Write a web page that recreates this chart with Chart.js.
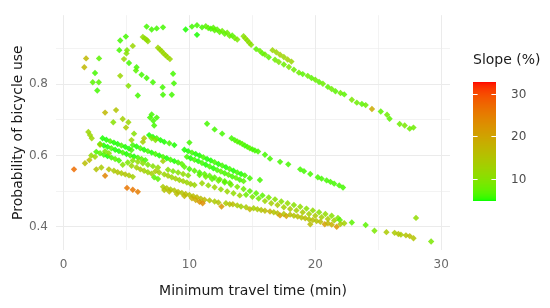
<!DOCTYPE html>
<html>
<head>
<meta charset="utf-8">
<script src="https://cdn.jsdelivr.net/npm/chart.js@4.4.1/dist/chart.umd.min.js"></script>
<style>
  html, body { margin: 0; background: #fff; }
</style>
</head>
<body>
<canvas id="chart-slope" width="550" height="308"></canvas>
<script>
// each point: [minimum travel time (min), probability of bicycle use, slope (%)]
const arcTop = [
    [6.6,0.961,6],[7.0,0.953,6],[7.4,0.956,6],[7.9,0.959,6],
    [9.7,0.953,5],[10.2,0.961,6],[10.6,0.965,6],[11.0,0.959,6],[10.6,0.938,5],
    [11.3,0.962,7],[11.5,0.957,7],[11.7,0.955,6],[11.9,0.958,7],[12.0,0.951,7],[12.2,0.953,7],
    [12.4,0.946,7],[12.6,0.949,8],[12.8,0.941,7],[13.0,0.944,8],[13.2,0.935,8],[13.4,0.936,7],
    [13.6,0.929,8],[13.8,0.925,9],
    [14.3,0.934,10],[14.45,0.928,11],[14.6,0.922,10],[14.75,0.916,11],[14.9,0.910,10]
];
const arcTail = [
    [15.3,0.898,7],[15.6,0.893,8],[15.8,0.886,7],[16.0,0.883,8],[16.3,0.875,7],
    [16.6,0.895,12],[16.9,0.889,12],[17.2,0.882,13],[17.5,0.876,12],[17.8,0.869,13],[18.1,0.863,12],
    [16.8,0.868,8],[17.1,0.862,9],[17.5,0.855,8],[17.9,0.848,9],[18.3,0.840,8],[18.7,0.832,8],
    [19.0,0.828,7],[19.4,0.823,8],[19.7,0.817,7],[20.0,0.812,8],[20.3,0.806,7],[20.6,0.801,8],
    [21.0,0.792,7],[21.3,0.786,8],[21.6,0.780,7],[22.0,0.775,8],[22.3,0.771,7],[22.9,0.756,9],
    [23.3,0.748,8],[23.7,0.744,7],[24.0,0.741,8],[24.5,0.730,19],[25.2,0.723,7],[25.7,0.714,8],
    [25.9,0.703,7],[26.7,0.688,8],[27.1,0.684,9],[27.5,0.675,8],[27.8,0.678,8]
];
const leftColumn = [
    [1.79,0.872,17],[1.65,0.847,17],[2.82,0.872,7],[2.5,0.831,6],[2.32,0.805,7],[2.8,0.805,7],[2.68,0.782,6],
    [3.3,0.720,17],[4.17,0.727,15],[3.95,0.693,10],[4.7,0.702,13],[5.15,0.693,12],[4.96,0.678,14],
    [1.97,0.666,12],[2.1,0.657,12],[2.24,0.648,12]
];
const innerArc = [
    [4.5,0.922,6],[4.95,0.933,6],[4.43,0.895,6],[5.04,0.895,9],[5.5,0.907,12],[5.0,0.886,10],
    [4.8,0.870,12],[5.2,0.859,6],[4.5,0.823,12],[5.8,0.847,6],[5.75,0.838,7],[6.2,0.826,6],
    [6.6,0.817,6],[7.1,0.805,6],[5.15,0.795,10],[5.9,0.768,6],[7.87,0.791,6],[7.9,0.770,6],
    [8.6,0.770,6],[8.7,0.829,6],[8.77,0.802,6],
    [6.3,0.932,11],[6.45,0.928,11],[6.6,0.924,11],[6.7,0.920,11],
    [7.5,0.902,12],[7.65,0.897,12],[7.8,0.892,12],[7.95,0.886,12],[8.1,0.881,12],[8.25,0.876,12],[8.45,0.870,12],
    [7.0,0.715,6],[6.87,0.706,6],[7.4,0.706,6],[7.13,0.697,6],[7.2,0.684,6]
];
const middleLine = [
    [11.4,0.689,6],[12.0,0.673,6],[12.6,0.661,6],[13.35,0.648,6],[13.6,0.643,6],[13.8,0.639,7],
    [14.0,0.636,6],[14.2,0.632,7],[14.4,0.628,6],[14.6,0.624,6],[14.8,0.620,7],[15.0,0.617,6],
    [15.2,0.614,6],[15.45,0.611,6],[16.0,0.602,6],[16.4,0.591,6],[17.2,0.582,6],[17.85,0.575,6],
    [18.8,0.561,6],[19.1,0.556,6],[19.6,0.548,6],[20.2,0.539,6],[20.5,0.535,6],[20.9,0.530,6],
    [21.2,0.526,6],[21.5,0.521,6],[21.9,0.516,6],[22.2,0.510,6]
];
const greenBand = [
    [3.1,0.648,5],[3.4,0.644,5],[3.7,0.640,6],[4.0,0.636,5],[4.3,0.632,5],[4.6,0.628,6],[4.9,0.624,5],[5.2,0.619,5],[5.4,0.615,6],
    [2.9,0.632,6],[3.2,0.628,5],[3.5,0.624,5],[3.8,0.620,6],[4.1,0.616,5],[4.4,0.612,5],[4.7,0.608,6],
    [5.0,0.604,5],[5.3,0.600,6],[5.6,0.597,5],[5.9,0.594,6],[6.2,0.590,7],[6.5,0.587,6],
    [2.6,0.610,6],[2.9,0.606,7],[3.2,0.602,6],[3.5,0.598,5],[3.8,0.594,6],[4.1,0.590,7],[4.4,0.586,6],
    [6.8,0.657,5],[7.1,0.652,5],[7.4,0.648,6],[7.7,0.643,5],[8.0,0.638,5],[8.4,0.634,6],[8.8,0.629,5],[10.0,0.636,6],
    [5.5,0.629,6],[5.8,0.625,5],[6.1,0.620,6],[6.4,0.616,5],[6.7,0.612,6],[7.0,0.608,5],[7.3,0.604,6],
    [7.6,0.600,5],[7.9,0.596,6],[8.2,0.592,5],[8.5,0.588,6],[8.8,0.584,5],[9.1,0.580,6],[9.4,0.576,7],
    [9.6,0.616,5],[9.9,0.612,5],[10.2,0.608,6],[10.5,0.604,5],[10.8,0.600,5],[11.1,0.595,6],[11.4,0.590,5],
    [11.7,0.586,5],[12.0,0.581,6],[12.3,0.576,5],[12.6,0.572,6],[12.9,0.567,5],[13.2,0.562,6],[13.5,0.557,5],
    [13.8,0.552,6],[14.1,0.548,5],[14.4,0.544,6],[14.8,0.536,6],[15.6,0.531,6],
    [9.8,0.596,6],[10.1,0.592,5],[10.4,0.588,6],[10.7,0.584,5],[11.0,0.579,6],[11.3,0.574,5],[11.6,0.569,6],
    [11.9,0.564,5],[12.2,0.559,6],[12.5,0.555,7],[12.8,0.550,6],[13.1,0.546,7],[13.4,0.541,6],[13.7,0.537,7],
    [14.0,0.532,6],[14.3,0.528,7],
    [9.6,0.568,7],[10.0,0.562,6],[10.4,0.557,7],[10.8,0.552,6],[11.2,0.548,7],[11.6,0.543,7],[12.0,0.538,7],
    [12.4,0.533,7],[12.8,0.528,7],[13.2,0.523,7]
];
const limeBand = [
    [2.9,0.630,12],[3.3,0.612,9],[3.6,0.606,10],[2.2,0.600,11],[2.5,0.596,12],[5.4,0.643,12],[6.3,0.638,13],
    [6.4,0.648,14],[5.6,0.661,10],[7.0,0.648,9],[7.3,0.643,10],
    [4.7,0.574,10],[5.1,0.580,9],[5.5,0.586,10],[5.9,0.582,11],[6.3,0.578,10],[6.7,0.574,9],[7.1,0.570,10],
    [7.5,0.566,11],[7.9,0.584,13],[8.3,0.560,10],[8.7,0.556,9],[9.1,0.552,10],[9.5,0.548,11],[9.9,0.544,10],
    [7.2,0.539,7],[7.5,0.534,7]
];
const oliveBand = [
    [1.7,0.578,16],[2.05,0.587,16],[2.6,0.561,15],[3.0,0.566,14],[3.6,0.561,15],[4.0,0.557,14],[4.3,0.553,15],
    [4.6,0.550,14],[4.9,0.547,15],[5.2,0.544,14],[5.4,0.571,12],[5.5,0.540,13],[5.8,0.566,13],[6.1,0.561,14],
    [6.4,0.557,13],[6.7,0.553,12],[7.0,0.549,13],[7.3,0.556,14],[7.6,0.552,13],[8.0,0.547,12],[8.3,0.543,13],
    [8.6,0.539,12],[8.9,0.535,13],[9.2,0.531,12],[9.5,0.528,13],[9.8,0.524,12],[10.1,0.520,13],[10.4,0.517,12]
];
const mainBand = [
    [10.8,0.545,7],[11.3,0.540,8],[11.8,0.534,7],[12.3,0.529,8],[12.8,0.524,7],[13.3,0.518,8],[13.8,0.512,9],
    [14.3,0.506,8],[14.8,0.500,7],[15.3,0.494,7],[15.8,0.488,7],[16.3,0.482,9],[16.8,0.477,10],[17.3,0.471,10],
    [17.8,0.466,11],[18.3,0.461,10],[18.8,0.456,11],[19.3,0.451,10],[19.8,0.446,11],[20.3,0.441,10],[20.8,0.436,11],
    [21.3,0.431,10],[21.8,0.425,9],
    [11.0,0.522,12],[11.5,0.516,11],[12.0,0.511,12],[12.5,0.505,11],[13.0,0.499,12],[13.5,0.494,11],[14.0,0.488,12],
    [14.5,0.490,8],[15.0,0.484,9],[15.5,0.479,8],[16.0,0.472,12],[16.5,0.466,13],[17.0,0.461,14],[17.5,0.455,13],
    [18.0,0.450,14],[18.5,0.446,13],[19.0,0.441,14],[19.5,0.436,13],[20.0,0.431,14],[20.5,0.427,13],[21.0,0.422,14],
    [21.5,0.418,13],[21.95,0.419,7]
];
const lowerBand = [
    [7.9,0.512,14],[8.2,0.508,15],[8.5,0.505,14],[8.8,0.502,15],[9.1,0.498,16],[9.4,0.495,15],[9.7,0.492,16],
    [10.0,0.489,15],[10.3,0.486,16],[10.6,0.483,17],[10.9,0.479,16],[11.2,0.476,17],
    [8.0,0.503,15],[8.4,0.499,16],[9.0,0.492,16],[9.6,0.486,17],[10.2,0.480,18],[10.5,0.475,19],[10.8,0.470,22],[11.05,0.466,23],
    [11.6,0.474,15],[12.0,0.471,14],[12.3,0.468,15],[12.55,0.457,22],[12.9,0.466,14],[13.2,0.463,15],[13.45,0.463,16],
    [13.8,0.460,14],[14.1,0.457,13],[14.5,0.455,14],[14.8,0.449,17],[15.1,0.452,13],[15.4,0.449,14],[15.7,0.447,15],
    [16.0,0.445,16],[16.4,0.443,18],[16.7,0.441,15],[17.0,0.438,16],[17.2,0.432,21],[17.5,0.436,15],[17.7,0.430,20],
    [18.0,0.434,16],[18.3,0.431,15],[18.6,0.429,16],[18.9,0.426,15],[19.2,0.424,16],[19.6,0.407,16],[19.5,0.421,15],
    [19.8,0.419,16],[20.1,0.416,15],[20.4,0.414,16],[20.75,0.407,21],[21.0,0.410,17],[21.3,0.406,18],[21.7,0.400,22],
    [22.0,0.408,14],[22.3,0.410,13]
];
const orangePoints = [
    [0.83,0.561,27],[3.3,0.543,24],[5.04,0.509,26],[5.5,0.504,26],[5.9,0.498,25]
];
const farTail = [
    [22.9,0.412,7],[24.0,0.405,7],[24.7,0.389,9],[25.65,0.385,14],[26.3,0.383,14],[26.6,0.380,15],
    [26.8,0.378,14],[27.2,0.376,15],[27.5,0.374,16],[27.8,0.368,15],[28.0,0.425,11],[29.2,0.359,9]
];

const xTicks = [0, 10, 20, 30];
const yTicks = [0.4, 0.6, 0.8];
const legendTicks = [10, 20, 30];
const slopeRange = [4.8, 32.8];

// ggplot-style green -> red gradient, interpolated in Lab space
const lowRGB = [0, 255, 0], highRGB = [255, 0, 0];

function toLab(rgb) {
    const lin = rgb.map(c => { c /= 255; return c <= 0.04045 ? c / 12.92 : Math.pow((c + 0.055) / 1.055, 2.4); });
    const [r, g, b] = lin;
    const X = (0.4124 * r + 0.3576 * g + 0.1805 * b) / 0.95047;
    const Y = 0.2126 * r + 0.7152 * g + 0.0722 * b;
    const Z = (0.0193 * r + 0.1192 * g + 0.9505 * b) / 1.08883;
    const f = t => t > 0.008856 ? Math.cbrt(t) : 7.787 * t + 16 / 116;
    const fx = f(X), fy = f(Y), fz = f(Z);
    return [116 * fy - 16, 500 * (fx - fy), 200 * (fy - fz)];
}

function fromLab([L, a, bb]) {
    const fy = (L + 16) / 116, fx = fy + a / 500, fz = fy - bb / 200;
    const inv = t => t * t * t > 0.008856 ? t * t * t : (t - 16 / 116) / 7.787;
    const X = inv(fx) * 0.95047, Y = inv(fy), Z = inv(fz) * 1.08883;
    const lin = [
        3.2406 * X - 1.5372 * Y - 0.4986 * Z,
        -0.9689 * X + 1.8758 * Y + 0.0415 * Z,
        0.0557 * X - 0.2040 * Y + 1.0570 * Z
    ];
    return lin.map(c => {
        c = c <= 0.0031308 ? 12.92 * c : 1.055 * Math.pow(c, 1 / 2.4) - 0.055;
        return Math.round(Math.min(1, Math.max(0, c)) * 255);
    });
}

const lowLab = toLab(lowRGB), highLab = toLab(highRGB);

function slopeColor(s, alpha = 1) {
    const t = Math.min(1, Math.max(0, (s - slopeRange[0]) / (slopeRange[1] - slopeRange[0])));
    const lab = lowLab.map((v, i) => v + (highLab[i] - v) * t);
    const [r, g, b] = fromLab(lab);
    return `rgba(${r},${g},${b},${alpha})`;
}

const allPoints = [
    ...arcTop, ...arcTail, ...leftColumn, ...innerArc, ...middleLine, ...greenBand,
    ...limeBand, ...oliveBand, ...mainBand, ...lowerBand, ...orangePoints, ...farTail
].map(p => ({ x: p[0], y: p[1], s: p[2] }));

const FONT = "'DejaVu Sans', Verdana, sans-serif";

// colourbar legend on the right, drawn after the chart
const colorbarLegend = {
    id: 'colorbarLegend',
    afterDraw(chart) {
        const ctx = chart.ctx;
        const left = 473, right = 496, top = 82, bottom = 201;
        ctx.save();
        ctx.fillStyle = '#1a1a1a';
        ctx.font = `14px ${FONT}`;
        ctx.textBaseline = 'middle';
        ctx.textAlign = 'left';
        ctx.fillText('Slope (%)', 473, 60);

        const span = slopeRange[1] - slopeRange[0];
        for (let y = top; y < bottom; y++) {
            const v = slopeRange[1] - ((y + 0.5 - top) / (bottom - top)) * span;
            ctx.fillStyle = slopeColor(v);
            ctx.fillRect(left, y, right - left, 1);
        }

        ctx.strokeStyle = '#ffffff';
        ctx.lineWidth = 1;
        ctx.font = `12px ${FONT}`;
        ctx.fillStyle = '#4d4d4d';
        const tick = (right - left) / 5;
        legendTicks.forEach(v => {
            const y = Math.round(bottom - ((v - slopeRange[0]) / span) * (bottom - top)) + 0.5;
            ctx.beginPath();
            ctx.moveTo(left, y); ctx.lineTo(left + tick, y);
            ctx.moveTo(right - tick, y); ctx.lineTo(right, y);
            ctx.stroke();
            ctx.fillText(String(v), 511, y);
        });
        ctx.restore();
    }
};

const gridColor = '#ebebeb';

new Chart(document.getElementById('chart-slope'), {
    type: 'scatter',
    data: {
        datasets: [{
            data: allPoints,
            pointStyle: 'rectRot',
            pointRadius: 3.2,
            borderWidth: 0,
            backgroundColor: ctx => slopeColor(ctx.raw ? ctx.raw.s : 10, 0.85),
        }]
    },
    options: {
        responsive: false,
        animation: false,
        layout: { padding: { left: 0, right: 100, top: 8, bottom: 0 } },
        plugins: { legend: { display: false }, tooltip: { enabled: false } },
        scales: {
            x: {
                type: 'linear',
                min: -0.6,
                max: 30.7,
                afterFit: s => { s.height = 58; },
                border: { display: false },
                grid: {
                    color: gridColor,
                    drawTicks: false,
                    lineWidth: c => xTicks.includes(c.tick && c.tick.value) ? 1 : 0.6,
                },
                ticks: {
                    stepSize: 5,
                    includeBounds: false,
                    padding: 8,
                    color: '#6b6b6b',
                    font: { family: FONT, size: 12 },
                    maxRotation: 0,
                    callback: v => xTicks.includes(v) ? String(v) : '',
                },
                title: {
                    display: true,
                    text: 'Minimum travel time (min)',
                    color: '#1a1a1a',
                    font: { family: FONT, size: 14 },
                    padding: { top: 0, bottom: 8 },
                }
            },
            y: {
                type: 'linear',
                min: 0.335,
                max: 0.993,
                afterFit: s => { s.width = 56; },
                border: { display: false },
                grid: {
                    color: gridColor,
                    drawTicks: false,
                    lineWidth: c => (c.tick && Math.round(c.tick.value * 10) % 2 === 0) ? 1 : 0.6,
                },
                ticks: {
                    stepSize: 0.1,
                    includeBounds: false,
                    padding: 8,
                    color: '#6b6b6b',
                    font: { family: FONT, size: 12 },
                    callback: v => {
                        const r = Math.round(v * 10) / 10;
                        return yTicks.includes(r) ? r.toFixed(1) : '';
                    },
                },
                title: {
                    display: true,
                    text: 'Probability of bicycle use',
                    color: '#1a1a1a',
                    font: { family: FONT, size: 14 },
                    padding: { top: 10, bottom: 0 },
                }
            }
        }
    },
    plugins: [colorbarLegend]
});
</script>
</body>
</html>
